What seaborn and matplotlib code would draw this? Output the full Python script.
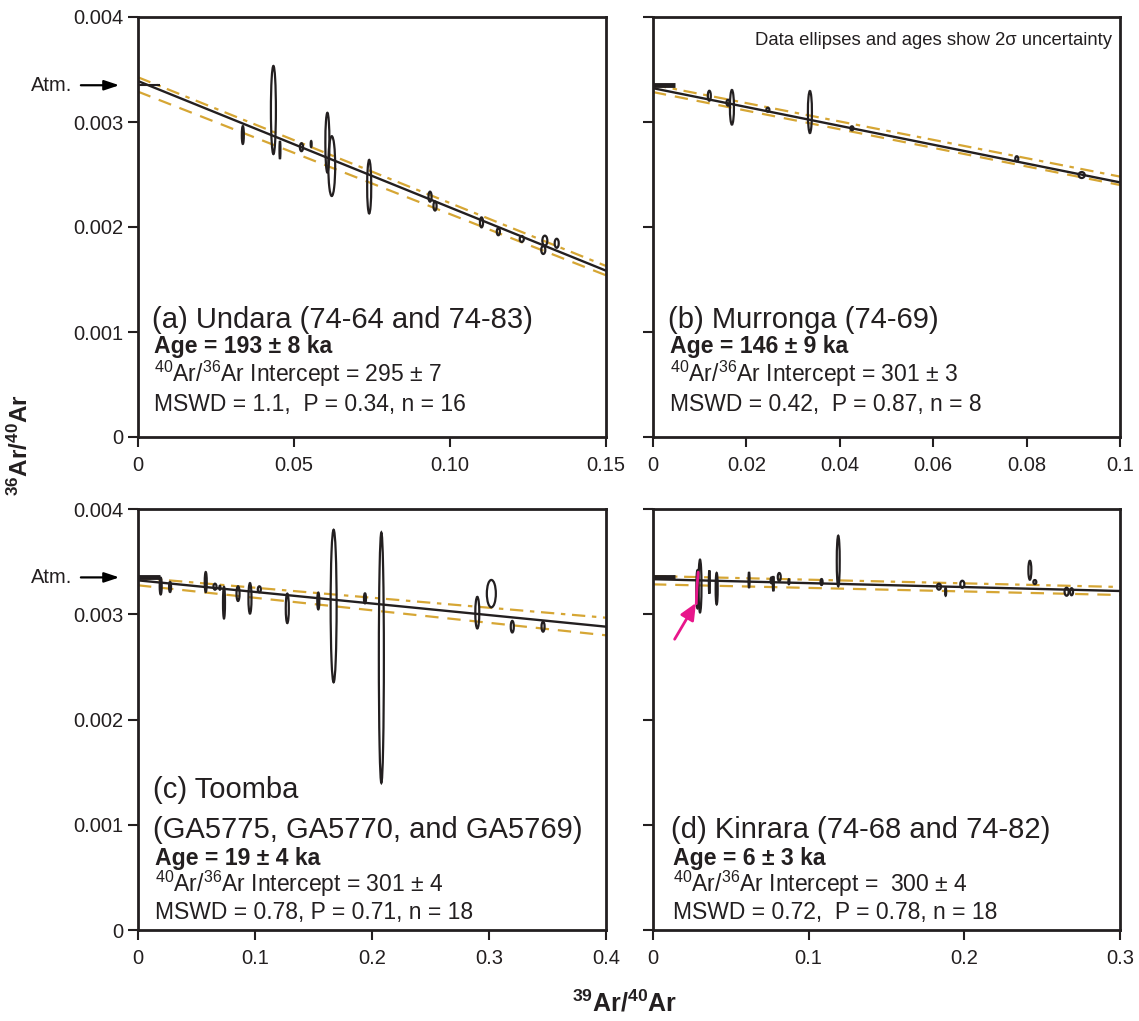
import numpy as np
import pandas as pd
import matplotlib
matplotlib.use("Agg")
import matplotlib.pyplot as plt
import seaborn as sns
from matplotlib.patches import Ellipse

# ---------------- data ----------------
# panel (a) Undara
A_X  = [0.0336, 0.0434, 0.0455, 0.0524, 0.0555, 0.0607, 0.0621, 0.0741,
        0.0936, 0.0952, 0.1101, 0.1155, 0.1230, 0.1304, 0.1299, 0.1342]
A_Y  = [0.002876, 0.003114, 0.002733, 0.002760, 0.002790, 0.002803, 0.002580, 0.002384,
        0.002289, 0.002200, 0.002044, 0.001955, 0.001886, 0.001870, 0.001781, 0.001845]
A_DX = [0.00064, 0.0016, 0.0003, 0.0010, 0.0003, 0.0013, 0.0022, 0.0013,
        0.0010, 0.0010, 0.0010, 0.0010, 0.0013, 0.0016, 0.0013, 0.0013]
A_DY = [0.00017, 0.00084, 0.00017, 0.000076, 0.000057, 0.00057, 0.00057, 0.00051,
        0.000095, 0.000086, 0.000095, 0.000067, 0.000057, 0.000095, 0.000076, 0.000086]
A_FIT = [0.003390, 0.001584]   # y at x = 0 and x = 0.15
A_UP  = [0.003426, 0.001629]
A_LO  = [0.003289, 0.001540]

# panel (b) Murronga
B_X  = [0.01206, 0.01606, 0.0169, 0.0246, 0.0336, 0.0426, 0.0779, 0.0918]
B_Y  = [0.003250, 0.003184, 0.003140, 0.003117, 0.003095, 0.002940, 0.002650, 0.002495]
B_DX = [0.00064, 0.00064, 0.00086, 0.00064, 0.00086, 0.00064, 0.00064, 0.0013]
B_DY = [0.000095, 0.000057, 0.00033, 0.000038, 0.00040, 0.000038, 0.000048, 0.000057]
B_FIT = [0.003322, 0.002425]   # y at x = 0 and x = 0.1
B_UP  = [0.003355, 0.002480]
B_LO  = [0.003285, 0.002400]

# panel (c) Toomba
C_X  = [0.0194, 0.0274, 0.0579, 0.0658, 0.0700, 0.0735, 0.0855, 0.0957, 0.1037,
        0.1276, 0.1541, 0.1672, 0.1940, 0.2080, 0.2900, 0.3020, 0.3199, 0.3462]
C_Y  = [0.003268, 0.003259, 0.003306, 0.003262, 0.003252, 0.003110, 0.003196, 0.003151, 0.003237,
        0.003056, 0.003126, 0.003078, 0.003151, 0.002587, 0.003015, 0.003196, 0.002882, 0.002882]
C_DX = [0.0017, 0.0017, 0.0017, 0.0026, 0.0009, 0.0017, 0.0026, 0.0026, 0.0026,
        0.0026, 0.0017, 0.0051, 0.0017, 0.0043, 0.0034, 0.0077, 0.0026, 0.0026]
C_DY = [0.00016, 0.000095, 0.00019, 0.000057, 0.000038, 0.00030, 0.00014, 0.00029, 0.000057,
        0.00028, 0.00016, 0.00145, 0.000095, 0.00238, 0.00030, 0.00026, 0.00011, 0.000095]
C_FIT = [0.003322, 0.002882]   # y at x = 0 and x = 0.4
C_UP  = [0.003347, 0.002967]
C_LO  = [0.003275, 0.002800]

# panel (d) Kinrara
D_X  = [0.0285, 0.0302, 0.0362, 0.0409, 0.0617, 0.0762, 0.0773, 0.0811, 0.0873,
        0.1083, 0.1190, 0.1837, 0.1880, 0.1987, 0.2421, 0.2453, 0.2657, 0.2689]
D_Y  = [0.003237, 0.003268, 0.003306, 0.003243, 0.003325, 0.003322, 0.003290, 0.003354, 0.003309,
        0.003306, 0.003506, 0.003262, 0.003214, 0.003285, 0.003418, 0.003306, 0.003214, 0.003214]
D_DX = [0.0013, 0.0019, 0.00064, 0.0013, 0.00064, 0.0013, 0.00064, 0.0019, 0.00064,
        0.0013, 0.0019, 0.0026, 0.00064, 0.0026, 0.0019, 0.0019, 0.0026, 0.0019]
D_DY = [0.00036, 0.00050, 0.00022, 0.00030, 0.00015, 0.000057, 0.00014, 0.000076, 0.000048,
        0.000057, 0.00048, 0.000057, 0.000076, 0.000067, 0.00018, 0.000038, 0.000076, 0.000067]
D_FIT = [0.003333, 0.003221]   # y at x = 0 and x = 0.3
D_UP  = [0.003363, 0.003259]
D_LO  = [0.003284, 0.003183]

ATM = 0.00335          # atmospheric marker level
PINK_TAIL = (0.013, 0.00274)
PINK_TIP = (0.0285, 0.00313)
PINK_EDGE_X = [0.0278, 0.0282, 0.0290]
PINK_EDGE_Y = [0.00310, 0.00325, 0.00340]

XLIMS = {"a": [0, 0.15], "b": [0, 0.1], "c": [0, 0.4], "d": [0, 0.3]}
XTICKS = {"a": [0, 0.05, 0.10, 0.15], "b": [0, 0.02, 0.04, 0.06, 0.08, 0.1],
          "c": [0, 0.1, 0.2, 0.3, 0.4], "d": [0, 0.1, 0.2, 0.3]}
XTICKLABELS = {"a": ["0", "0.05", "0.10", "0.15"],
               "b": ["0", "0.02", "0.04", "0.06", "0.08", "0.1"],
               "c": ["0", "0.1", "0.2", "0.3", "0.4"],
               "d": ["0", "0.1", "0.2", "0.3"]}
YTICKS = [0, 0.001, 0.002, 0.003, 0.004]
YTICKLABELS = ["0", "0.001", "0.002", "0.003", "0.004"]

TITLES = {"a": ["(a) Undara (74-64 and 74-83)"],
          "b": ["(b) Murronga (74-69)"],
          "c": ["(c) Toomba", "(GA5775, GA5770, and GA5769)"],
          "d": ["(d) Kinrara (74-68 and 74-82)"]}
AGES = {"a": "Age = 193 ± 8 ka", "b": "Age = 146 ± 9 ka",
        "c": "Age = 19 ± 4 ka", "d": "Age = 6 ± 3 ka"}
INTERCEPTS = {"a": "295 ± 7", "b": "301 ± 3", "c": "301 ± 4", "d": " 300 ± 4"}
STATS = {"a": "MSWD = 1.1,  P = 0.34, n = 16",
         "b": "MSWD = 0.42,  P = 0.87, n = 8",
         "c": "MSWD = 0.78, P = 0.71, n = 18",
         "d": "MSWD = 0.72,  P = 0.78, n = 18"}

# ---------------- style ----------------
sns.set_style("white")
plt.rcParams["font.family"] = ["Liberation Sans", "DejaVu Sans"]
plt.rcParams["mathtext.fontset"] = "custom"
plt.rcParams["mathtext.rm"] = "Liberation Sans"
plt.rcParams["mathtext.it"] = "Liberation Sans:italic"
plt.rcParams["mathtext.bf"] = "Liberation Sans:bold"

INK = "#231f20"
GOLD = "#D6A634"
PINK = "#E8168B"

fig = plt.figure(figsize=(11.39, 10.21), dpi=100)

W = 1139.0
H = 1021.0
def box(l, t, r, b):
    return [l / W, 1 - b / H, (r - l) / W, (b - t) / H]

axes = {
    "a": fig.add_axes(box(138, 17, 606, 437)),
    "b": fig.add_axes(box(653, 17, 1120, 437)),
    "c": fig.add_axes(box(138, 509, 606, 930)),
    "d": fig.add_axes(box(653, 509, 1120, 930)),
}

data = {
    "a": (A_X, A_Y, A_DX, A_DY, A_FIT, A_UP, A_LO),
    "b": (B_X, B_Y, B_DX, B_DY, B_FIT, B_UP, B_LO),
    "c": (C_X, C_Y, C_DX, C_DY, C_FIT, C_UP, C_LO),
    "d": (D_X, D_Y, D_DX, D_DY, D_FIT, D_UP, D_LO),
}

text_layout = {
    # x, title baselines, age, intercept, stats
    "a": (0.030, [0.2595], 0.200, 0.131, 0.062),
    "b": (0.032, [0.2595], 0.200, 0.131, 0.062),
    "c": (0.032, [0.313, 0.2185], 0.154, 0.090, 0.026),
    "d": (0.038, [0.2185], 0.154, 0.090, 0.026),
}

for key, ax in axes.items():
    xs, ys, dxs, dys, fit, up, lo = data[key]
    xlim = XLIMS[key]
    df = pd.DataFrame({"x": xlim * 3,
                       "y": fit + up + lo,
                       "line": ["fit"] * 2 + ["up"] * 2 + ["lo"] * 2})
    sns.lineplot(data=df[df.line == "up"], x="x", y="y", ax=ax, color=GOLD,
                 lw=1.6, linestyle=(0, (6, 3, 2, 3)), zorder=2)
    sns.lineplot(data=df[df.line == "lo"], x="x", y="y", ax=ax, color=GOLD,
                 lw=1.6, linestyle=(0, (6, 4)), zorder=2)
    for x, y, dx, dy in zip(xs, ys, dxs, dys):
        ax.add_patch(Ellipse((x, y), width=dx, height=dy, fill=False,
                             ec=INK, lw=1.6, zorder=3))
    sns.lineplot(data=df[df.line == "fit"], x="x", y="y", ax=ax, color=INK,
                 lw=1.7, zorder=4)

    ax.axhline(ATM, xmin=0, xmax=0.047, color=INK,
               lw=1.5 if key == "a" else 3.5, zorder=5, solid_capstyle="butt")

    ax.set_xlim(xlim)
    ax.set_ylim(0, 0.004)
    ax.set_xticks(XTICKS[key])
    ax.set_xticklabels(XTICKLABELS[key])
    ax.set_yticks(YTICKS)
    if key in ("a", "c"):
        ax.set_yticklabels(YTICKLABELS)
    else:
        ax.set_yticklabels([])
    ax.set_xlabel("")
    ax.set_ylabel("")
    ax.tick_params(direction="out", length=7.5, width=1.5, labelsize=14.5,
                   colors=INK, bottom=True, left=True)
    ax.tick_params(axis="x", pad=6)
    ax.tick_params(axis="y", pad=3)
    for sp in ax.spines.values():
        sp.set_linewidth(2.0)
        sp.set_color(INK)

    tx, tys, age_y, int_y, st_y = text_layout[key]
    for line, ty in zip(TITLES[key], tys):
        ax.text(tx, ty, line, transform=ax.transAxes, fontsize=21,
                color=INK, va="baseline", ha="left")
    ax.text(tx + 0.004, age_y, AGES[key], transform=ax.transAxes, fontsize=16.6,
            fontweight="bold", color=INK, va="baseline", ha="left")
    ax.text(tx + 0.004, int_y, r"$^{40}$Ar/$^{36}$Ar Intercept = " + INTERCEPTS[key],
            transform=ax.transAxes, fontsize=16.5, color=INK, va="baseline", ha="left")
    ax.text(tx + 0.004, st_y, STATS[key], transform=ax.transAxes, fontsize=16.5,
            color=INK, va="baseline", ha="left")

    if key in ("a", "c"):
        ax.annotate("", xy=(-0.034, ATM), xycoords=("axes fraction", "data"),
                    xytext=(-0.128, ATM), textcoords=("axes fraction", "data"),
                    arrowprops=dict(arrowstyle="-|>,head_length=0.9,head_width=0.3",
                                    color="black", lw=1.6),
                    annotation_clip=False)
        ax.text(-0.14, ATM, "Atm.", transform=ax.get_yaxis_transform(),
                fontsize=14.5, color=INK, ha="right", va="center")

axes["b"].text(0.983, 0.943, "Data ellipses and ages show 2σ uncertainty",
               transform=axes["b"].transAxes, fontsize=13.3, color=INK,
               ha="right", va="center")

axes["d"].plot(PINK_EDGE_X, PINK_EDGE_Y, color=PINK, lw=2.0, zorder=5)
axes["d"].annotate("", xy=PINK_TIP, xytext=PINK_TAIL,
                   arrowprops=dict(arrowstyle="-|>,head_length=1.0,head_width=0.45",
                                   color=PINK, lw=2.0), zorder=6)

fig.text(20 / W, 1 - 445 / H, r"$^{\mathbf{36}}$Ar/$^{\mathbf{40}}$Ar", rotation=90,
         fontsize=17.5, fontweight="bold", color=INK, ha="center", va="center")
fig.text(624 / W, 1 - 1003 / H, r"$^{\mathbf{39}}$Ar/$^{\mathbf{40}}$Ar",
         fontsize=18, fontweight="bold", color=INK, ha="center", va="center")

fig.savefig("out.png", dpi=100)
